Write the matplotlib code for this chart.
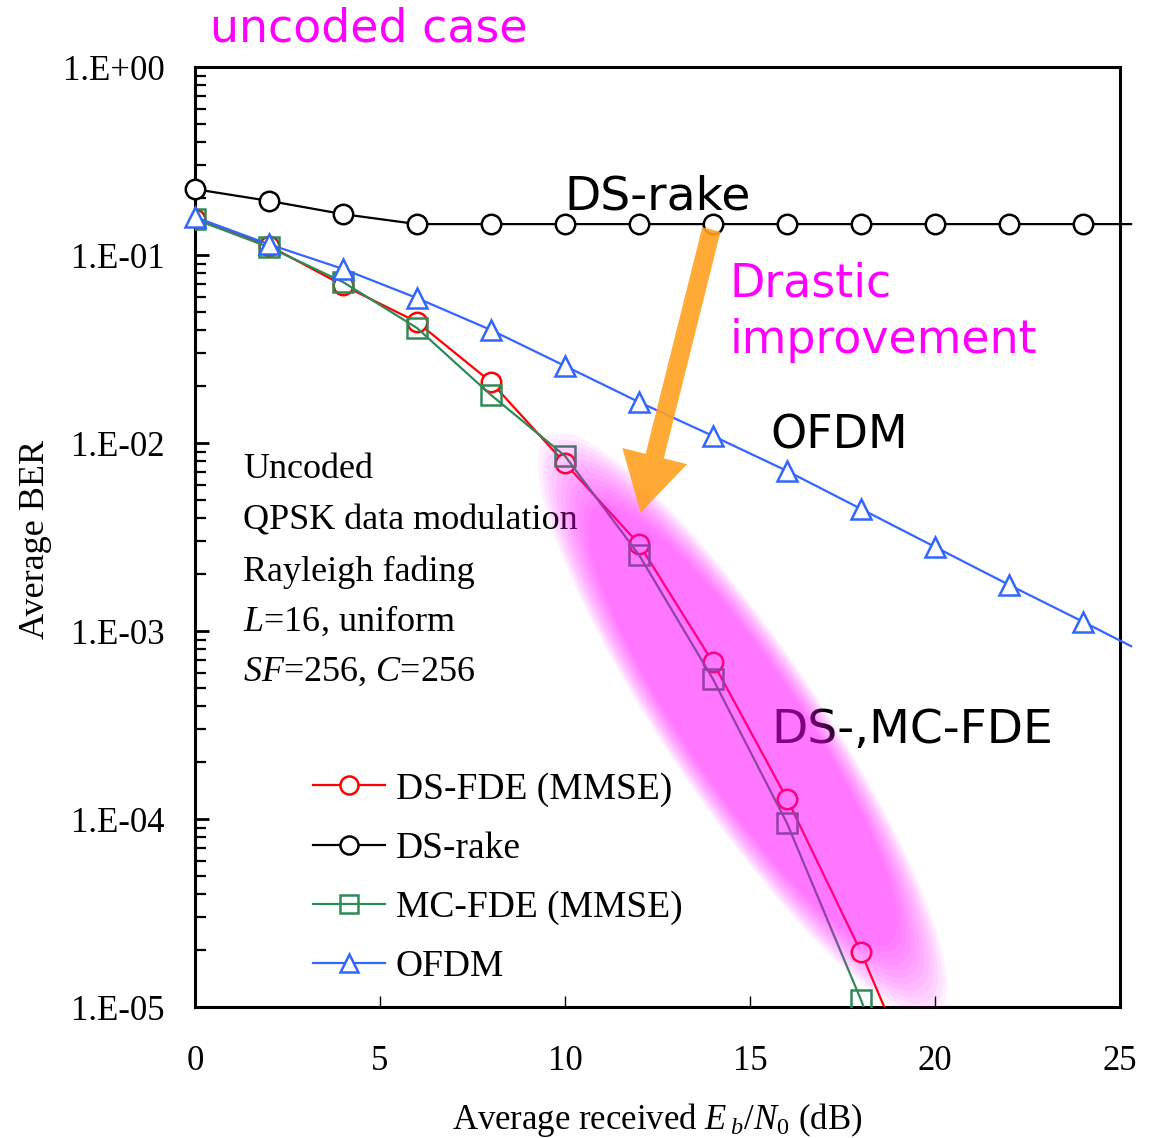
import numpy as np
import matplotlib
matplotlib.use("Agg")
import matplotlib.pyplot as plt
from matplotlib.patches import Ellipse
from matplotlib.ticker import FixedLocator, LogLocator, NullFormatter

plt.rcParams['font.family'] = ['Liberation Serif', 'DejaVu Serif']
plt.rcParams['mathtext.fontset'] = 'custom'
plt.rcParams['mathtext.rm'] = 'Liberation Serif'
plt.rcParams['mathtext.it'] = 'Liberation Serif:italic'

# ---------------- data ----------------
ebn0 = [0, 2, 4, 6, 8, 10, 12, 14, 16, 18, 20]
ds_fde = [0.155, 0.112, 0.069, 0.044, 0.0211, 0.0078, 0.0029, 6.8e-4, 1.28e-4, 1.96e-5, 2.3e-6]
mc_fde = [0.155, 0.110, 0.0718, 0.0409, 0.018, 0.00853, 0.00254, 5.55e-4, 9.5e-5, 1.09e-5, 1.0e-6]

ebn0_long = [0, 2, 4, 6, 8, 10, 12, 14, 16, 18, 20, 22, 24, 25.3]
ds_rake = [0.224, 0.194, 0.165, 0.146, 0.146, 0.146, 0.146, 0.146, 0.146, 0.146, 0.146, 0.146, 0.146, 0.146]
ofdm = [0.159, 0.114, 0.0843, 0.059, 0.0399, 0.0257, 0.0165, 0.0109, 0.0071, 0.00446, 0.0028, 0.00176, 0.00112, 8.3e-4]

ytick_vals = [1e0, 1e-1, 1e-2, 1e-3, 1e-4, 1e-5]
ytick_labels = ['1.E+00', '1.E-01', '1.E-02', '1.E-03', '1.E-04', '1.E-05']
xtick_vals = [0, 5, 10, 15, 20, 25]

legend_labels = ['DS-FDE (MMSE)', 'DS-rake', 'MC-FDE (MMSE)', 'OFDM']
condition_lines = ['Uncoded', 'QPSK data modulation', 'Rayleigh fading',
                   '$L$=16, uniform', '$SF$=256, $C$=256']

# ---------------- figure ----------------
fig = plt.figure(figsize=(11.54, 11.38), dpi=100)
ax = fig.add_axes([195/1154, 1 - 1007/1138, 925/1154, 940/1138])
ax.set_yscale('log')
ax.set_xlim(0, 25)
ax.set_ylim(1e-5, 1)

red = '#FF0000'
green = '#2E8B57'
blue = '#3366FF'
ms = 14
lw = 1.6

l1, = ax.plot(ebn0, ds_fde, color=red, lw=lw, marker='o', ms=ms, mfc='white',
              mec=red, mew=1.8, zorder=3, markevery=list(range(10)))
l2, = ax.plot(ebn0_long, ds_rake, color='black', lw=lw, marker='o', ms=ms, mfc='white',
              mec='black', mew=1.8, zorder=3, clip_on=False, markevery=list(range(13)))
l3, = ax.plot(ebn0, mc_fde, color=green, lw=lw, marker='s', ms=ms, mfc='none',
              mec=green, mew=1.8, zorder=3, markevery=list(range(10)))
l4, = ax.plot(ebn0_long, ofdm, color=blue, lw=lw, marker='^', ms=ms, mfc='white',
              mec=blue, mew=1.8, zorder=3, clip_on=False, markevery=list(range(13)))

# axes styling
for s in ax.spines.values():
    s.set_linewidth(2.2)
ax.yaxis.set_major_locator(FixedLocator(ytick_vals))
ax.set_yticklabels(ytick_labels)
ax.yaxis.set_minor_locator(LogLocator(base=10, subs=np.arange(2, 10)))
ax.yaxis.set_minor_formatter(NullFormatter())
ax.set_xticks(xtick_vals)
ax.set_xticklabels([str(v) for v in xtick_vals])
ax.tick_params(axis='y', which='major', direction='in', length=10, width=2, labelsize=25, pad=22)
ax.tick_params(axis='y', which='minor', direction='in', length=8, width=1.6)
ax.tick_params(axis='x', which='major', direction='in', length=8, width=1, labelsize=25, pad=27)
ax.tick_params(axis='x', which='minor', bottom=False)

ax.set_xlabel('Average received $E_{\\;b}$/$N_{\\rm 0}$ (dB)', fontsize=25)
ax.xaxis.set_label_coords(0.5, -0.100)
ax.set_ylabel('Average BER', fontsize=26)
ax.yaxis.set_label_coords(-0.155, 0.497)

# condition text
ys = [0.572, 0.517, 0.463, 0.410, 0.356]
for t, yy in zip(condition_lines, ys):
    ax.text(0.052, yy, t, transform=ax.transAxes, fontsize=26, va='center', ha='left', zorder=2)

sans = ['DejaVu Sans']
ax.text(0.016, 1.040, 'uncoded case', transform=ax.transAxes, fontsize=33, color='#FF00FF',
        family=sans, va='center', ha='left', clip_on=False)
ax.text(0.399, 0.862, 'DS-rake', transform=ax.transAxes, fontsize=34, family=sans,
        va='center', ha='left', zorder=2)
ax.text(0.578, 0.769, 'Drastic', transform=ax.transAxes, fontsize=33, family=sans,
        color='#FF00FF', va='center', ha='left')
ax.text(0.578, 0.709, 'improvement', transform=ax.transAxes, fontsize=33, family=sans,
        color='#FF00FF', va='center', ha='left')
ax.text(0.622, 0.607, 'OFDM', transform=ax.transAxes, fontsize=33, family=sans,
        va='center', ha='left')
ax.text(0.623, 0.294, 'DS-,MC-FDE', transform=ax.transAxes, fontsize=34, family=sans,
        va='center', ha='left', zorder=2)

# soft magenta ellipse highlight
n = 12
for i in range(n):
    f = 1.12 - 0.025 * i
    e = Ellipse((0.592, 0.300), width=0.665 * f, height=0.148 * f, angle=-55.6,
                transform=ax.transAxes, facecolor='#FF00FF', edgecolor='none',
                alpha=0.06, zorder=5)
    ax.add_patch(e)

# orange arrow
ax.annotate('', xy=(0.481, 0.523), xytext=(0.559, 0.83), xycoords='axes fraction',
            textcoords='axes fraction',
            arrowprops=dict(arrowstyle='simple,head_length=1.4,head_width=1.6,tail_width=0.45',
                            mutation_scale=30, color='#FFA020', alpha=0.9, lw=0),
            zorder=6)

leg = ax.legend([l1, l2, l3, l4], legend_labels, loc='upper left', bbox_to_anchor=(0.128, 0.250),
                frameon=False, fontsize=27, handlelength=1.9, handletextpad=0.3, numpoints=1,
                labelspacing=0.66, borderpad=0, borderaxespad=0)
leg.set_zorder(7)
for h in leg.legend_handles:
    h.set_markersize(13)

fig.savefig('out.png', dpi=100)
